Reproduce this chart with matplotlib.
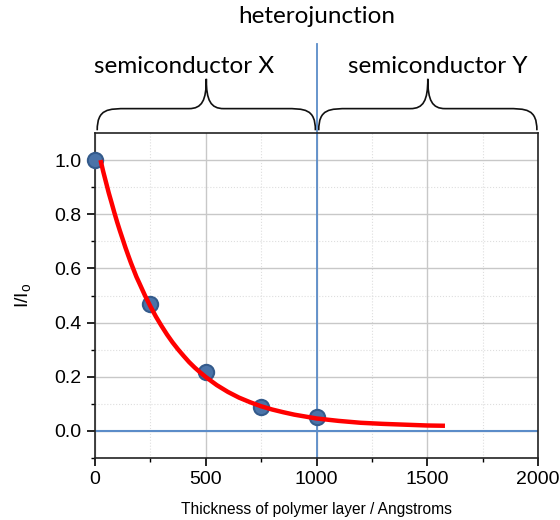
import matplotlib
matplotlib.use("Agg")
import matplotlib.pyplot as plt
import numpy as np
from matplotlib.path import Path
from matplotlib.patches import PathPatch

# measured points
thickness = [0, 250, 500, 750, 1000]
intensity = [1.0, 0.468, 0.219, 0.090, 0.050]

# fitted decay curve
fit_x = [25, 37, 50, 62, 75, 87, 100, 112, 125, 137, 150, 162, 175, 187,
         200, 225, 250, 275, 300, 325, 350, 375, 400, 425, 450, 475, 500,
         550, 600, 650, 700, 750, 800, 850, 900, 950, 1000, 1100, 1200,
         1300, 1400, 1500, 1580]
fit_y = [1.000, 0.958, 0.917, 0.879, 0.842, 0.807, 0.771, 0.740, 0.708,
         0.678, 0.648, 0.621, 0.594, 0.569, 0.546, 0.501, 0.460, 0.422,
         0.388, 0.356, 0.327, 0.301, 0.277, 0.254, 0.234, 0.216, 0.199,
         0.169, 0.144, 0.123, 0.106, 0.091, 0.079, 0.069, 0.060, 0.053,
         0.046, 0.037, 0.030, 0.026, 0.023, 0.020, 0.019]

junction = 1000
regions = ["semiconductor X", "semiconductor Y"]
region_spans = [(0, 1000), (1000, 2000)]
region_label_x = [400, 1548]

plt.rcParams['font.family'] = ['Liberation Sans', 'DejaVu Sans']

fig = plt.figure(figsize=(5.6, 5.2), dpi=100)
ax = fig.add_axes([95 / 560, 62 / 520, 443 / 560, 325 / 520])

ax.set_xlim(0, 2000)
ax.set_ylim(-0.1, 1.1)
ax.set_xticks([0, 500, 1000, 1500, 2000])
ax.set_xticks([250, 750, 1250, 1750], minor=True)
ax.set_yticks([0.0, 0.2, 0.4, 0.6, 0.8, 1.0])
ax.set_yticks([-0.1, 0.1, 0.3, 0.5, 0.7, 0.9], minor=True)
ax.set_yticklabels(["0.0", "0.2", "0.4", "0.6", "0.8", "1.0"])
ax.grid(True, which="major", color="#c8c8c8", lw=1.0)
ax.grid(True, which="minor", color="#dedede", lw=0.8, ls=":")
ax.set_axisbelow(True)
ax.tick_params(which="major", direction="out", length=6, width=1.2, labelsize=14)
ax.tick_params(which="minor", direction="out", length=3, width=1.0)
for sp in ax.spines.values():
    sp.set_linewidth(1.2)
    sp.set_color("#222222")

ax.axhline(0, color="#5b8cc8", lw=1.5, zorder=2)
ax.plot([junction, junction], [-0.1, 1.43], color="#5b8cc8", lw=1.3,
        clip_on=False, zorder=2)

ax.plot(fit_x, fit_y, color="#ff0000", lw=3.2, zorder=4,
        solid_capstyle="butt", solid_joinstyle="round")
ax.plot(thickness, intensity, "o", ms=11, mfc="#4a73a8", mec="#345b8c",
        mew=1.5, zorder=3, clip_on=False)

ax.set_xlabel("Thickness of polymer layer / Angstroms", fontsize=11.2, labelpad=10)
ax.set_ylabel("I/I$_\\mathregular{o}$", fontsize=14, labelpad=15)


def brace(x0, x1, yb, yf, yt):
    xm = (x0 + x1) / 2
    w = x1 - x0
    verts = [(x0, yb),
             (x0, yf), (x0 + 0.05 * w, yf), (x0 + 0.14 * w, yf),
             (xm - 0.08 * w, yf),
             (xm - 0.02 * w, yf), (xm, yf + 0.03), (xm, yt),
             (xm, yf + 0.03), (xm + 0.02 * w, yf), (xm + 0.08 * w, yf),
             (x1 - 0.14 * w, yf),
             (x1 - 0.05 * w, yf), (x1, yf), (x1, yb)]
    codes = [Path.MOVETO,
             Path.CURVE4, Path.CURVE4, Path.CURVE4,
             Path.LINETO,
             Path.CURVE4, Path.CURVE4, Path.CURVE4,
             Path.CURVE4, Path.CURVE4, Path.CURVE4,
             Path.LINETO,
             Path.CURVE4, Path.CURVE4, Path.CURVE4]
    ax.add_patch(PathPatch(Path(verts, codes), fill=False, lw=1.2,
                           ec="#111111", clip_on=False))


for label, (x0, x1), lx in zip(regions, region_spans, region_label_x):
    brace(x0 + 10, x1 - 5, 1.11, 1.19, 1.30)
    ax.text(lx, 1.345, label, ha="center", va="center", fontsize=17.5,
            family=["Lato", "DejaVu Sans"])

ax.text(junction, 1.53, "heterojunction", ha="center", va="center",
        fontsize=17.5, family=["Lato", "DejaVu Sans"])

fig.savefig("out.png", dpi=100)
